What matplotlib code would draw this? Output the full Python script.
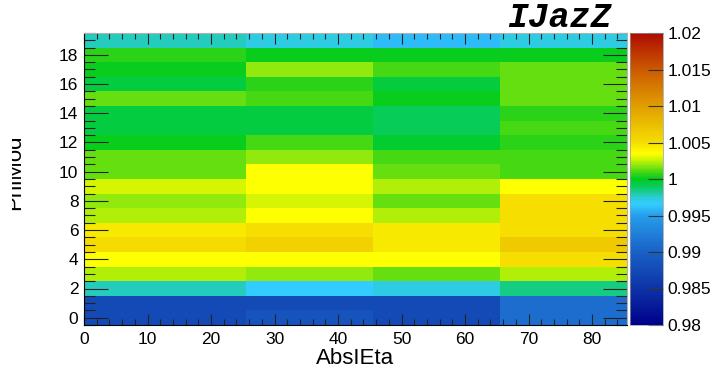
#!/usr/bin/env python3
"""IJazZ scale map: PhiMod vs AbsIEta, drawn ROOT-style (colz)."""

import numpy as np
import matplotlib
matplotlib.use("Agg")
import matplotlib.pyplot as plt
from matplotlib.colors import LinearSegmentedColormap
from matplotlib.ticker import MultipleLocator
from matplotlib.transforms import Bbox, TransformedBbox

plt.rcParams["font.family"] = ["Liberation Sans", "DejaVu Sans"]

# bin edges
abs_ieta_edges = [0, 25.5, 45.5, 65.5, 85.5]
phimod_rows = list(range(20))

# scale per PhiMod row (0..19), one list per AbsIEta bin
scale_eta0 = [0.9875, 0.9875, 0.9978, 1.0023, 1.0035, 1.0052, 1.0045, 1.0023, 1.0019, 1.0028,
              1.0014, 1.0014, 1.0001, 0.9994, 0.9994, 1.0014, 0.9994, 1.0001, 1.0006, 0.9978]
scale_eta1 = [0.9885, 0.9875, 0.9965, 1.0019, 1.0035, 1.0060, 1.0050, 1.0035, 1.0028, 1.0035,
              1.0035, 1.0019, 1.0010, 0.9994, 0.9994, 1.0010, 1.0006, 1.0019, 1.0001, 0.9972]
scale_eta2 = [0.9875, 0.9875, 0.9972, 1.0014, 1.0035, 1.0045, 1.0045, 1.0023, 1.0014, 1.0023,
              1.0014, 1.0010, 0.9997, 0.9990, 0.9990, 1.0001, 0.9995, 1.0010, 1.0001, 0.9960]
scale_eta3 = [0.9910, 0.9910, 0.9985, 1.0023, 1.0050, 1.0065, 1.0050, 1.0050, 1.0050, 1.0035,
              1.0010, 1.0010, 1.0006, 1.0010, 1.0006, 1.0014, 1.0014, 1.0014, 1.0001, 0.9972]

zmin, zmax = 0.98, 1.02

# palette (value, rgb) -- squeezed around 1 like the ROOT contour levels
palette = [
    (0.980, (0.00, 0.00, 0.55)),
    (0.985, (0.05, 0.20, 0.65)),
    (0.990, (0.10, 0.38, 0.78)),
    (0.995, (0.15, 0.62, 0.92)),
    (0.9965, (0.20, 0.80, 1.00)),
    (0.9975, (0.17, 0.80, 0.85)),
    (0.998, (0.12, 0.80, 0.65)),
    (0.999, (0.03, 0.80, 0.35)),
    (1.000, (0.00, 0.80, 0.12)),
    (1.001, (0.28, 0.85, 0.07)),
    (1.002, (0.60, 0.92, 0.05)),
    (1.003, (0.90, 0.97, 0.00)),
    (1.0035, (1.00, 1.00, 0.00)),
    (1.005, (0.96, 0.87, 0.00)),
    (1.010, (0.88, 0.62, 0.00)),
    (1.015, (0.80, 0.35, 0.00)),
    (1.020, (0.68, 0.05, 0.00)),
]
cmap = LinearSegmentedColormap.from_list(
    "ijazz", [((v - zmin) / (zmax - zmin), c) for v, c in palette], N=512)

z = np.column_stack([scale_eta0, scale_eta1, scale_eta2, scale_eta3])
y_edges = np.arange(len(phimod_rows) + 1) - 0.5

fig = plt.figure(figsize=(7.12, 3.70), dpi=100)
ax = fig.add_axes([84 / 712, 1 - 325 / 370, 543 / 712, 292 / 370])
cax = fig.add_axes([630 / 712, 1 - 325 / 370, 33 / 712, 292 / 370])

mesh = ax.pcolormesh(abs_ieta_edges, y_edges, z, cmap=cmap, vmin=zmin, vmax=zmax)
ax.set_xlim(abs_ieta_edges[0], abs_ieta_edges[-1])
ax.set_ylim(y_edges[0], y_edges[-1])

ax.xaxis.set_major_locator(MultipleLocator(10))
ax.xaxis.set_minor_locator(MultipleLocator(2))
ax.yaxis.set_major_locator(MultipleLocator(2))
ax.yaxis.set_minor_locator(MultipleLocator(0.5))
ax.tick_params(axis="both", which="both", direction="in", top=True, right=True,
               labelsize=12.5, color="#222222", width=0.8)
ax.tick_params(axis="x", which="major", length=8, pad=5)
ax.tick_params(axis="x", which="minor", length=4)
ax.tick_params(axis="y", which="major", length=17, pad=4)
ax.tick_params(axis="y", which="minor", length=8)
for s in ("top", "right"):
    ax.spines[s].set_color("#b0b0b0")
for s in ax.spines.values():
    s.set_linewidth(0.8)

ax.set_xlabel("AbsIEta", fontsize=16, labelpad=1)

# y title sits partly off the canvas, as in the ROOT output
ylab = fig.text(15 / 712, 1 - 172.5 / 370, "PhiMod", rotation=90, fontsize=16,
                ha="center", va="center")
ylab.set_clip_box(TransformedBbox(Bbox([[12 / 712, 0], [1, 1]]), fig.transFigure))
ylab.set_clip_on(True)

fig.text(611 / 712, 1 - 27 / 370, "IJazZ", fontsize=25, ha="right", va="baseline",
         family="Liberation Mono", weight="bold", style="italic")

cb = fig.colorbar(mesh, cax=cax)
cb.set_ticks([0.98, 0.985, 0.99, 0.995, 1.0, 1.005, 1.01, 1.015, 1.02])
cb.set_ticklabels(["0.98", "0.985", "0.99", "0.995", "1", "1.005", "1.01", "1.015", "1.02"])
cax.yaxis.set_ticks_position("right")
cax.tick_params(direction="in", length=11, labelsize=12.5, pad=3, color="#333333", width=0.8)
cb.outline.set_linewidth(0.5)
cb.outline.set_edgecolor("#999999")
cb.minorticks_off()

fig.savefig("out.png", dpi=100)
